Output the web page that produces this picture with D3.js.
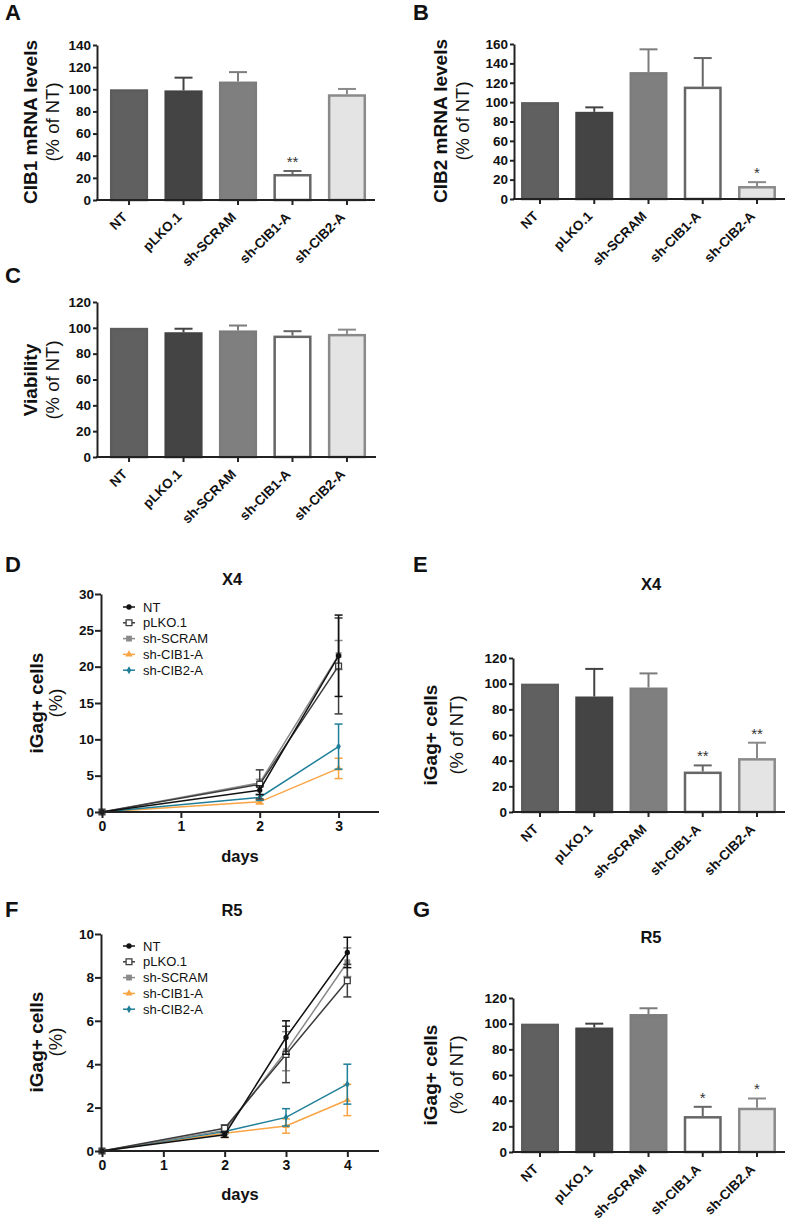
<!DOCTYPE html>
<html><head><meta charset="utf-8">
<script src="https://cdn.jsdelivr.net/npm/d3@7"></script>
<style>
body{margin:0;background:#fff}
svg{display:block}
text{font-family:"Liberation Sans",Arial,Helvetica,sans-serif}
</style>
</head><body>
<svg id="c" width="787" height="1224"></svg>
<script>
// ---------- DATA ----------
const categories = ["NT", "pLKO.1", "sh-SCRAM", "sh-CIB1-A", "sh-CIB2-A"];
const categoriesG = ["NT", "pLKO.1", "sh-SCRAM", "sh-CIB1.A", "sh-CIB2.A"];

const cib1Values = [100, 99, 107, 23.5, 95.5];
const cib1Err    = [0, 11.5, 8.5, 2.7, 4.8];
const cib1Sig    = ["", "", "", "**", ""];

const cib2Values = [100, 90, 131, 116, 13.4];
const cib2Err    = [0, 4.6, 23.5, 29.5, 4];
const cib2Sig    = ["", "", "", "", "*"];

const viabValues = [100, 96.6, 98, 94, 95.3];
const viabErr    = [0, 2.7, 3.8, 3.4, 3.3];

const x4BarValues = [100, 90, 97, 31.5, 42];
const x4BarErr    = [0, 21.5, 11, 4.8, 12];
const x4BarSig    = ["", "", "", "**", "**"];

const r5BarValues = [100, 97, 107.5, 28, 34.5];
const r5BarErr    = [0, 3, 4.5, 7.2, 7.2];
const r5BarSig    = ["", "", "", "*", "*"];

const seriesNames = ["NT", "pLKO.1", "sh-SCRAM", "sh-CIB1-A", "sh-CIB2-A"];

const x4Days = [0, 2, 3];
const x4Values = [
  [0, 3.0, 21.5],
  [0, 3.8, 20.1],
  [0, 4.0, 21.6],
  [0, 1.4, 6.0],
  [0, 2.0, 9.0]
];
const x4Err = [
  [0, 0.6, 5.6],
  [0, 2.0, 6.6],
  [0, 0.5, 2.0],
  [0, 0.3, 1.4],
  [0, 0.4, 3.1]
];
const x4YTicks = [0, 5, 10, 15, 20, 25, 30];
const x4XTicks = [0, 1, 2, 3];

const r5Days = [0, 2, 3, 4];
const r5Values = [
  [0, 0.75, 5.23, 9.15],
  [0, 1.05, 4.45, 7.85],
  [0, 0.95, 4.6, 8.7],
  [0, 0.82, 1.15, 2.35],
  [0, 0.9, 1.55, 3.08]
];
const r5Err = [
  [0, 0.12, 0.77, 0.7],
  [0, 0.15, 1.3, 0.75],
  [0, 0.15, 0.9, 0.66],
  [0, 0.2, 0.33, 0.72],
  [0, 0.1, 0.4, 0.92]
];
const r5YTicks = [0, 2, 4, 6, 8, 10];
const r5XTicks = [0, 1, 2, 3, 4];

const barYTicks140 = [0, 20, 40, 60, 80, 100, 120, 140];
const barYTicks160 = [0, 20, 40, 60, 80, 100, 120, 140, 160];
const barYTicks120 = [0, 20, 40, 60, 80, 100, 120];

// ---------- STYLE ----------
const barFill   = ["#606060", "#444444", "#7f7f7f", "#ffffff", "#e4e4e4"];
const barStroke = ["#5c5c5c", "#434343", "#7c7c7c", "#666666", "#8a8a8a"];
const lineColor = ["#111111", "#3c3c3c", "#8a8a8a", "#f9a443", "#1f7f98"];
const axisColor = "#222";
const FONT = '"Liberation Sans",Arial,sans-serif';

const svg = d3.select("#c");

function panelText(t, x, y, size, weight, anchor) {
  return svg.append("text").attr("x", x).attr("y", y)
    .attr("font-size", size).attr("font-weight", weight || "bold")
    .attr("text-anchor", anchor || "start").attr("fill", "#111").text(t);
}

function yTitle(l1, l2, x1, x2, cy) {
  svg.append("text").attr("transform", `translate(${x1},${cy}) rotate(-90)`)
    .attr("text-anchor", "middle").attr("font-size", 19).attr("font-weight", "bold")
    .attr("fill", "#111").text(l1);
  svg.append("text").attr("transform", `translate(${x2},${cy}) rotate(-90)`)
    .attr("text-anchor", "middle").attr("font-size", 18.5).attr("font-weight", "normal")
    .attr("fill", "#111").text(l2);
}

function barPanel(o) {
  const g = svg.append("g");
  const x = d3.scaleBand().domain(o.cats).range([o.bandL, o.bandR])
    .paddingInner(0.3).paddingOuter(0.15);
  const y = d3.scaleLinear().domain([0, o.ymax]).range([o.y0, o.y1]);
  const sw = 2.5;
  const data = o.values.map((v, i) => ({c: o.cats[i], v, e: o.errs[i], s: o.sig ? o.sig[i] : "", i}));

  const eb = g.append("g");
  data.filter(d => d.e > 0).forEach(d => {
    const cx = x(d.c) + x.bandwidth() / 2;
    eb.append("line").attr("x1", cx).attr("x2", cx).attr("y1", y(d.v)).attr("y2", y(d.v + d.e))
      .attr("stroke", barStroke[d.i]).attr("stroke-width", 2);
    eb.append("line").attr("x1", cx - 9).attr("x2", cx + 9).attr("y1", y(d.v + d.e)).attr("y2", y(d.v + d.e))
      .attr("stroke", barStroke[d.i]).attr("stroke-width", 2);
  });

  g.append("g").selectAll("rect").data(data).join("rect")
    .attr("x", d => x(d.c) + sw / 2)
    .attr("width", x.bandwidth() - sw)
    .attr("y", d => y(d.v) + sw / 2)
    .attr("height", d => o.y0 - y(d.v) - sw / 2)
    .attr("fill", d => barFill[d.i])
    .attr("stroke", d => barStroke[d.i])
    .attr("stroke-width", sw);

  g.append("g").selectAll("text").data(data.filter(d => d.s)).join("text")
    .attr("x", d => x(d.c) + x.bandwidth() / 2)
    .attr("y", d => y(d.v + d.e) - 4)
    .attr("text-anchor", "middle").attr("font-size", 15).attr("fill", "#333")
    .text(d => d.s);

  const ya = g.append("g").attr("transform", `translate(${o.axisX},0)`)
    .call(d3.axisLeft(y).tickValues(o.yticks).tickSize(4).tickSizeOuter(0).tickPadding(2));
  ya.select(".domain").attr("stroke", axisColor).attr("stroke-width", 2);
  ya.selectAll(".tick line").attr("stroke", axisColor).attr("stroke-width", 2);
  ya.selectAll(".tick text").attr("font-size", 13.5).attr("font-weight", "bold").attr("fill", "#111")
    .attr("font-family", FONT);

  const xa = g.append("g").attr("transform", `translate(0,${o.y0})`)
    .call(d3.axisBottom(x).tickSize(5).tickSizeOuter(0));
  xa.select(".domain").remove();
  xa.selectAll(".tick line").attr("stroke", axisColor).attr("stroke-width", 2);
  xa.selectAll(".tick text")
    .attr("font-size", 13.5).attr("font-weight", "bold").attr("fill", "#111")
    .attr("font-family", FONT)
    .attr("text-anchor", "end").attr("y", 0).attr("dy", 0)
    .attr("transform", "translate(-1,18) rotate(-45)");
  g.append("line").attr("x1", o.axisX - 1).attr("x2", o.axisEnd).attr("y1", o.y0).attr("y2", o.y0)
    .attr("stroke", axisColor).attr("stroke-width", 2);
}

function marker(sel, i, cx, cy) {
  const types = [d3.symbolCircle, d3.symbolSquare, d3.symbolSquare, d3.symbolTriangle, d3.symbolDiamond];
  const sizes = [22, 34, 34, 22, 18];
  const p = sel.append("path")
    .attr("d", d3.symbol().type(types[i]).size(sizes[i])())
    .attr("transform", `translate(${cx},${cy})`);
  if (i === 1) p.attr("fill", "#fff").attr("stroke", lineColor[i]).attr("stroke-width", 1.3);
  else p.attr("fill", lineColor[i]);
}

function linePanel(o) {
  const g = svg.append("g");
  const x = d3.scaleLinear().domain([0, o.xmax]).range([o.x0, o.x1]);
  const y = d3.scaleLinear().domain([0, o.ymax]).range([o.y0, o.y1]);

  const order = [3, 4, 2, 1, 0];
  order.forEach(i => {
    const pts = o.days.map((d, k) => ({d, v: o.values[i][k], e: o.errs[i][k]}));
    const s = g.append("g");
    pts.filter(p => p.e > 0).forEach(p => {
      const cx = x(p.d);
      s.append("line").attr("x1", cx).attr("x2", cx).attr("y1", y(p.v - p.e)).attr("y2", y(p.v + p.e))
        .attr("stroke", lineColor[i]).attr("stroke-width", 1.5);
      [p.v - p.e, p.v + p.e].forEach(vv => {
        s.append("line").attr("x1", cx - 4).attr("x2", cx + 4).attr("y1", y(vv)).attr("y2", y(vv))
          .attr("stroke", lineColor[i]).attr("stroke-width", 1.5);
      });
    });
    s.append("path").datum(pts)
      .attr("d", d3.line().x(p => x(p.d)).y(p => y(p.v)))
      .attr("fill", "none").attr("stroke", lineColor[i]).attr("stroke-width", 1.5);
    pts.forEach(p => marker(s, i, x(p.d), y(p.v)));
  });

  const ya = g.append("g").attr("transform", `translate(${o.x0 - 1},0)`)
    .call(d3.axisLeft(y).tickValues(o.yticks).tickSize(6).tickSizeOuter(0).tickPadding(1));
  ya.select(".domain").attr("stroke", axisColor).attr("stroke-width", 2);
  ya.selectAll(".tick line").attr("stroke", axisColor).attr("stroke-width", 2);
  ya.selectAll(".tick text").attr("font-size", 13.5).attr("font-weight", "bold").attr("fill", "#111")
    .attr("font-family", FONT);

  const xa = g.append("g").attr("transform", `translate(0,${o.y0})`)
    .call(d3.axisBottom(x).tickValues(o.xticks).tickSize(6).tickSizeOuter(0).tickPadding(3).tickFormat(d3.format("d")));
  xa.select(".domain").remove();
  xa.selectAll(".tick line").attr("stroke", axisColor).attr("stroke-width", 2);
  xa.selectAll(".tick text").attr("font-size", 14).attr("font-weight", "bold").attr("fill", "#111")
    .attr("font-family", FONT);
  g.append("line").attr("x1", o.x0 - 2).attr("x2", o.x1 + 1).attr("y1", o.y0).attr("y2", o.y0)
    .attr("stroke", axisColor).attr("stroke-width", 2);

  const lg = g.append("g");
  seriesNames.forEach((n, i) => {
    const ly = o.legY + i * 15.8;
    lg.append("line").attr("x1", o.legX).attr("x2", o.legX + 12).attr("y1", ly).attr("y2", ly)
      .attr("stroke", lineColor[i]).attr("stroke-width", 1.5);
    marker(lg, i, o.legX + 6, ly);
    lg.append("text").attr("x", o.legX + 20).attr("y", ly + 4.6)
      .attr("font-size", 13).attr("fill", "#111").text(n);
  });

  panelText("days", (o.x0 + o.x1) / 2, o.daysY, 16.5, "bold", "middle");
}

// ---------- PANELS ----------
panelText("A", 5, 20, 22);
barPanel({cats: categories, values: cib1Values, errs: cib1Err, sig: cib1Sig,
  axisX: 97, axisEnd: 375, bandL: 101.8, bandR: 374.2, y0: 200, y1: 45, ymax: 140, yticks: barYTicks140});
yTitle("CIB1 mRNA levels", "(% of NT)", 37, 59, 122);

panelText("B", 413, 20, 22);
barPanel({cats: categories, values: cib2Values, errs: cib2Err, sig: cib2Sig,
  axisX: 514, axisEnd: 785, bandL: 512.9, bandR: 784.1, y0: 199, y1: 44, ymax: 160, yticks: barYTicks160});
yTitle("CIB2 mRNA levels", "(% of NT)", 447, 469, 121);

panelText("C", 5, 283, 22);
barPanel({cats: categories, values: viabValues, errs: viabErr, sig: null,
  axisX: 97, axisEnd: 376, bandL: 101.8, bandR: 374.2, y0: 457, y1: 302, ymax: 120, yticks: barYTicks120});
yTitle("Viability", "(% of NT)", 37, 59, 380);

panelText("D", 5, 572, 22);
panelText("X4", 232, 585, 16.5, "bold", "middle");
linePanel({days: x4Days, values: x4Values, errs: x4Err, xmax: 3.5, xticks: x4XTicks, yticks: x4YTicks,
  x0: 102, x1: 378, y0: 812, y1: 594, ymax: 30, legX: 123, legY: 607, daysY: 862});
yTitle("iGag+ cells", "(%)", 43, 62, 703);

panelText("E", 413, 572, 22);
panelText("X4", 651, 590, 16.5, "bold", "middle");
barPanel({cats: categories, values: x4BarValues, errs: x4BarErr, sig: x4BarSig,
  axisX: 513, axisEnd: 785, bandL: 512.9, bandR: 784.1, y0: 812, y1: 658, ymax: 120, yticks: barYTicks120});
yTitle("iGag+ cells", "(% of NT)", 437, 463, 735);

panelText("F", 5, 917, 22);
panelText("R5", 232, 916, 16.5, "bold", "middle");
linePanel({days: r5Days, values: r5Values, errs: r5Err, xmax: 4.5, xticks: r5XTicks, yticks: r5YTicks,
  x0: 102, x1: 378, y0: 1151, y1: 934, ymax: 10, legX: 123, legY: 946, daysY: 1200});
yTitle("iGag+ cells", "(%)", 43, 62, 1042);

panelText("G", 413, 917, 22);
panelText("R5", 651, 943, 16.5, "bold", "middle");
barPanel({cats: categoriesG, values: r5BarValues, errs: r5BarErr, sig: r5BarSig,
  axisX: 513, axisEnd: 785, bandL: 512.9, bandR: 784.1, y0: 1152, y1: 998, ymax: 120, yticks: barYTicks120});
yTitle("iGag+ cells", "(% of NT)", 437, 463, 1075);
</script>
</body></html>
